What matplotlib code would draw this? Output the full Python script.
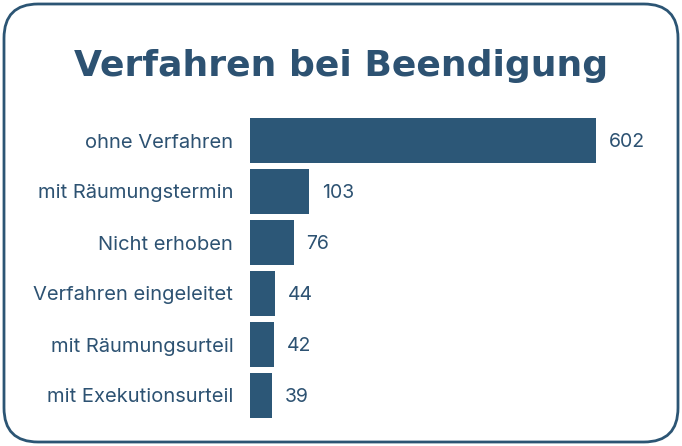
import matplotlib
matplotlib.use("Agg")
import matplotlib.pyplot as plt
from matplotlib.patches import FancyBboxPatch

categories = ["ohne Verfahren", "mit Räumungstermin", "Nicht erhoben",
              "Verfahren eingeleitet", "mit Räumungsurteil", "mit Exekutionsurteil"]
values = [602, 103, 76, 44, 42, 39]
title = "Verfahren bei Beendigung"

bar_color = "#2c5777"
text_color = "#2d5272"

W, H = 682, 446
fig = plt.figure(figsize=(W / 100, H / 100), dpi=100)
fig.patch.set_facecolor("white")

# rounded border
border = FancyBboxPatch((4 / W, 4 / H), (W - 8) / W, (H - 8) / H,
                        boxstyle="round,pad=0,rounding_size=0.05",
                        transform=fig.transFigure, facecolor="none",
                        edgecolor="#2c5574", linewidth=2, mutation_aspect=W / H,
                        zorder=5)
fig.patches.append(border)

fig.text(0.5, 1 - 66 / H, title, ha="center", va="center",
         fontsize=26, fontweight="bold", color=text_color, family="DejaVu Sans")

left_px, right_px = 250, 660
top_px, bottom_px = 115, 421
ax = fig.add_axes([left_px / W, 1 - bottom_px / H, (right_px - left_px) / W,
                   (bottom_px - top_px) / H])
px_per_unit = 346 / 602
ax.set_xlim(0, (right_px - left_px) / px_per_unit)
y = list(range(len(categories)))
ax.barh(y, values, height=0.9, color=bar_color)
ax.set_ylim(len(categories) - 0.5, -0.5)
ax.set_yticks(y)
ax.set_yticklabels(categories, fontsize=14.5, color=text_color, family="Inter")
ax.tick_params(axis="y", length=0, pad=12)
ax.set_xticks([])
for s in ax.spines.values():
    s.set_visible(False)
ax.patch.set_alpha(0)

for yi, v in zip(y, values):
    ax.annotate(str(v), (v, yi), xytext=(9, -1), textcoords="offset points",
                ha="left", va="center", fontsize=14, color=text_color, family="Inter")

fig.savefig("out.png", dpi=100, facecolor="white")
